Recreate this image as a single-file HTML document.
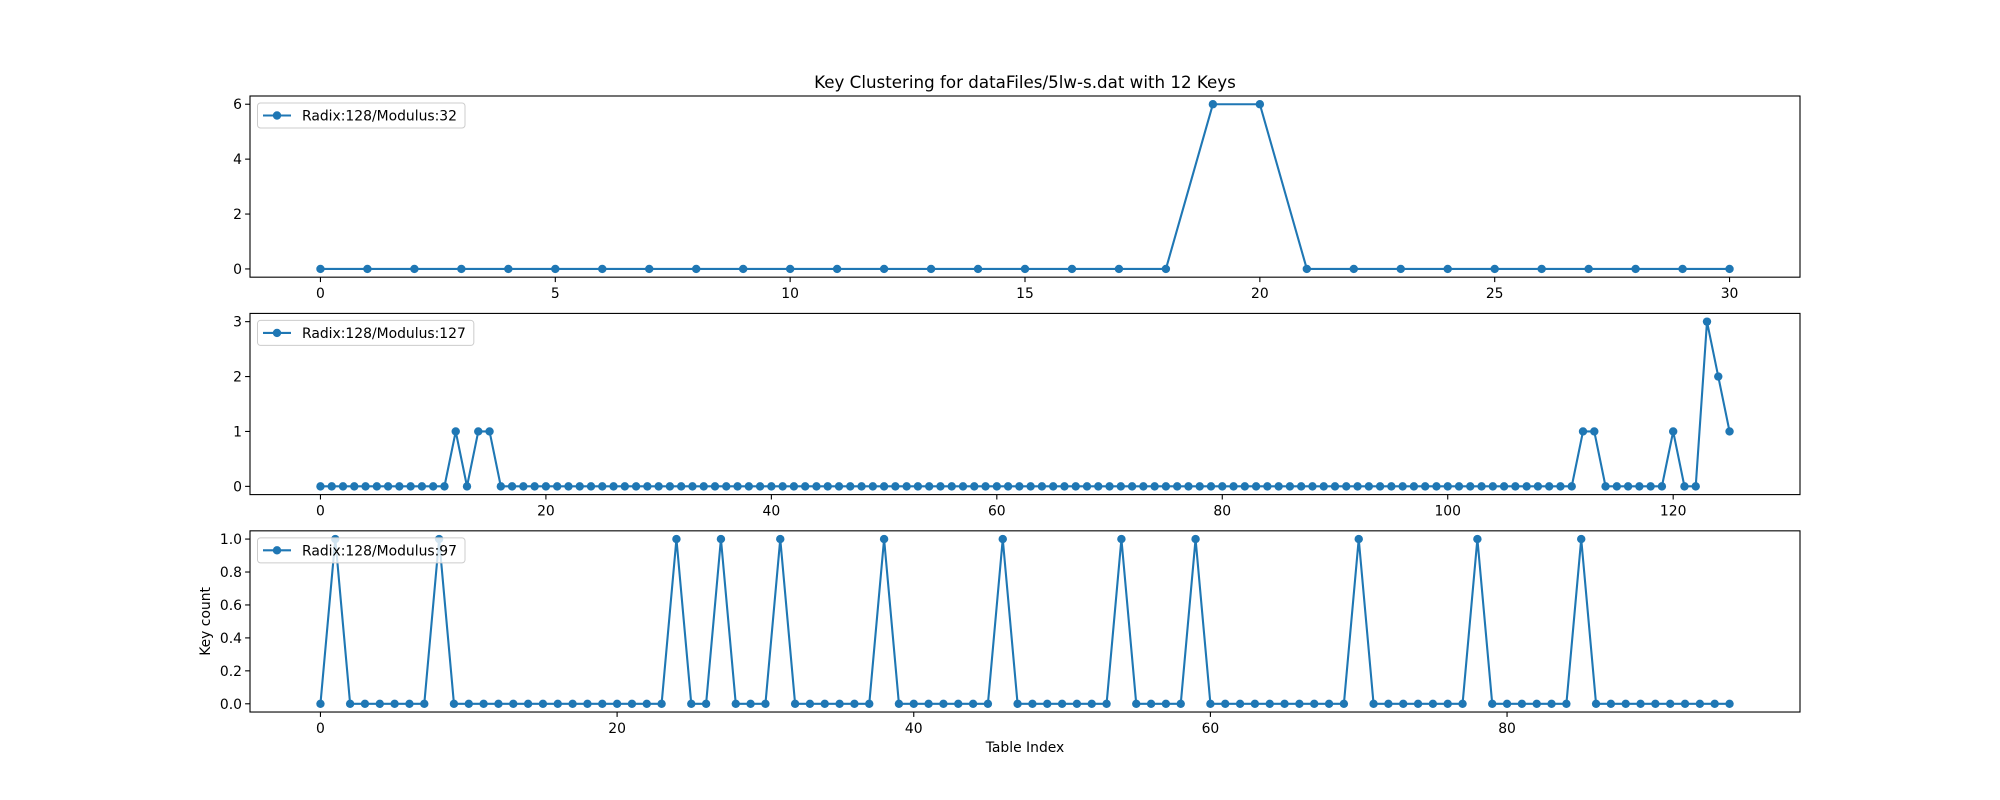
<!DOCTYPE html>
<html><head><meta charset="utf-8"><style>
html,body{margin:0;padding:0;background:#fff;}
svg{display:block;font-family:"DejaVu Sans","Liberation Sans",sans-serif;}
</style></head><body>
<svg id="chart" width="2000" height="800" viewBox="0 0 2000 800" xmlns="http://www.w3.org/2000/svg">
<rect width="2000" height="800" fill="#fff"/>
<text x="1025" y="88" font-size="16.7" text-anchor="middle" fill="#000">Key Clustering for dataFiles/5lw-s.dat with 12 Keys</text>
<text x="1025" y="752" font-size="13.9" text-anchor="middle" fill="#000">Table Index</text>
<text x="0" y="0" transform="translate(210,621.4) rotate(-90)" font-size="13.9" text-anchor="middle" fill="#000">Key count</text>
</svg>
<script>
// Panel 1: Radix 128 / Modulus 32
const labels = ["Radix:128/Modulus:32", "Radix:128/Modulus:127", "Radix:128/Modulus:97"];
const values32 = [0,0,0,0,0,0,0,0,0,0,0,0,0,0,0,0,0,0,0,6,6,0,0,0,0,0,0,0,0,0,0];
const values127 = [0,0,0,0,0,0,0,0,0,0,0,0,1,0,1,1,0,0,0,0,0,0,0,0,0,0,0,0,0,0,
0,0,0,0,0,0,0,0,0,0,0,0,0,0,0,0,0,0,0,0,0,0,0,0,0,0,0,0,0,0,
0,0,0,0,0,0,0,0,0,0,0,0,0,0,0,0,0,0,0,0,0,0,0,0,0,0,0,0,0,0,
0,0,0,0,0,0,0,0,0,0,0,0,0,0,0,0,0,0,0,0,0,0,1,1,0,0,0,0,0,0,
1,0,0,3,2,1];
const values97 = [0,1,0,0,0,0,0,0,1,0,0,0,0,0,0,0,0,0,0,0,0,0,0,0,1,0,0,1,0,0,
0,1,0,0,0,0,0,0,1,0,0,0,0,0,0,0,1,0,0,0,0,0,0,0,1,0,0,0,0,1,
0,0,0,0,0,0,0,0,0,0,1,0,0,0,0,0,0,0,1,0,0,0,0,0,0,1,0,0,0,0,
0,0,0,0,0,0];
const xTicks1 = [0,5,10,15,20,25,30];
const yTicks1 = [0,2,4,6];
const xTicks2 = [0,20,40,60,80,100,120];
const yTicks2 = [0,1,2,3];
const xTicks3 = [0,20,40,60,80];
const yTicks3 = [0,0.2,0.4,0.6,0.8,1.0];
const yTickFmt3 = ["0.0","0.2","0.4","0.6","0.8","1.0"];

const svg = document.getElementById('chart');
const NS = 'http://www.w3.org/2000/svg';
const C = '#1f77b4';
function mk(tag, attrs){const e=document.createElementNS(NS,tag);for(const k in attrs)e.setAttribute(k,attrs[k]);return e;}

const L=250,R=1800,axH=181.18,gap=36.24,top0=96;
const panels=[
 {vals:values32,xt:xTicks1,yt:yTicks1,yf:null,label:labels[0],name:'modulus-32'},
 {vals:values127,xt:xTicks2,yt:yTicks2,yf:null,label:labels[1],name:'modulus-127'},
 {vals:values97,xt:xTicks3,yt:yTicks3,yf:yTickFmt3,label:labels[2],name:'modulus-97'}
];
panels.forEach((p,pi)=>{
  const T=top0+pi*(axH+gap),B=T+axH;
  const n=p.vals.length-1;
  const xmin=-0.05*n,xmax=n*1.05;
  const vmax=Math.max(...p.vals);
  const ymin=-0.05*vmax,ymax=vmax*1.05;
  const xs=v=>L+(v-xmin)/(xmax-xmin)*(R-L);
  const ys=v=>B-(v-ymin)/(ymax-ymin)*(B-T);
  const g=mk('g',{});
  
  
  svg.appendChild(g);
  // ticks
  p.xt.forEach(t=>{
    const x=xs(t);
    const tl=mk('line',{x1:x,x2:x,y1:B,y2:B+4.9,stroke:'#000','stroke-width':1.1});
    
    
    g.appendChild(tl);
    const tx=mk('text',{x:x,y:B+21,'font-size':13.9,'text-anchor':'middle',fill:'#000'});
    
    
    tx.textContent=String(t);g.appendChild(tx);
  });
  p.yt.forEach((t,i)=>{
    const y=ys(t);
    const tl=mk('line',{x1:L-4.9,x2:L,y1:y,y2:y,stroke:'#000','stroke-width':1.1});
    
    
    g.appendChild(tl);
    const tx=mk('text',{x:L-8,y:y+5,'font-size':13.9,'text-anchor':'end',fill:'#000'});
    
    
    tx.textContent=p.yf?p.yf[i]:String(t);g.appendChild(tx);
  });
  // line
  const pts=p.vals.map((v,i)=>xs(i).toFixed(2)+','+ys(v).toFixed(2)).join(' ');
  const pl=mk('polyline',{points:pts,fill:'none',stroke:C,'stroke-width':2.1,'stroke-linejoin':'round'});
  
  
  g.appendChild(pl);
  p.vals.forEach((v,i)=>{
    const c=mk('circle',{cx:xs(i),cy:ys(v),r:4.2,fill:C});
    
    
    g.appendChild(c);
  });
  // frame
  const fr=mk('rect',{x:L,y:T,width:R-L,height:B-T,fill:'none',stroke:'#000','stroke-width':1.1});
  
  
  g.appendChild(fr);
  // legend
  const lg=mk('g',{});
  
  
  g.appendChild(lg);
  const w=p.label.length*7.9+70;
  const bx=mk('rect',{x:257.5,y:T+7,width:w,height:25,rx:3,fill:'#fff','fill-opacity':0.8,stroke:'#ccc','stroke-width':1});
  
  
  lg.appendChild(bx);
  const ll=mk('line',{x1:263,x2:291,y1:T+19.5,y2:T+19.5,stroke:C,'stroke-width':2.1});
  
  
  lg.appendChild(ll);
  const lc=mk('circle',{cx:277,cy:T+19.5,r:4.2,fill:C});
  
  
  lg.appendChild(lc);
  const lt=mk('text',{x:302,y:T+24.5,'font-size':13.9,fill:'#000'});
  
  
  lt.textContent=p.label;lg.appendChild(lt);
  const bb=lt.getBBox();bx.setAttribute('width',bb.x+bb.width+8-257.5);
});
</script>
</body></html>
